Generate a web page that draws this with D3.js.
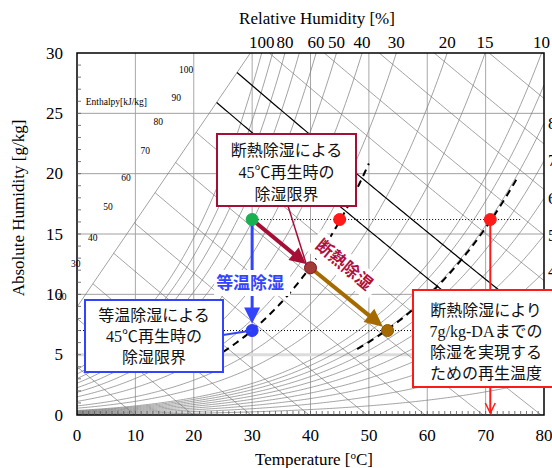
<!DOCTYPE html>
<html>
<head>
<meta charset="utf-8">
<script src="https://cdn.jsdelivr.net/npm/d3@7/dist/d3.min.js"></script>
<style>
  body { margin: 0; background: #fff; }
  text { font-family: "Liberation Serif", "Noto Sans CJK JP", serif; }
  .jp { font-family: "Liberation Serif", "Noto Sans CJK JP", sans-serif; }
</style>
</head>
<body>
<div id="chart"></div>
<script>
// --- data ---
const tempTicks = [0, 10, 20, 30, 40, 50, 60, 70, 80];
const humTicks = [0, 5, 10, 15, 20, 25, 30];
const rhLevels = [1, 2, 3, 4, 5, 6, 7, 8, 9, 10, 15, 20, 30, 40, 50, 60, 70, 80, 90, 100];
const rhTopLabels = [100, 80, 60, 50, 40, 30, 20, 15, 10];
const rhRightLabels = [8, 7, 6, 5, 4];
const enthalpyLevels = [10, 20, 30, 40, 50, 60, 70, 80, 90, 100, 110, 120, 130, 140, 150, 160];
const enthalpyBold = [90, 100];
// enthalpy label: [h, T, w]
const enthalpyLabels = [
  [100, 18.7, 28.6], [90, 17.0, 26.3], [80, 13.9, 24.3], [70, 11.7, 21.9],
  [60, 8.4, 19.6], [50, 5.3, 17.2], [40, 2.7, 14.7], [30, -0.2, 12.5], [20, -2.6, 9.8]
];
// guide line where the enthalpy lines start [T, w]
const guideLine = [[0, 8.95], [29.7, 30]];
// state points [T, w]
const pStart = [30, 16.2];
const pIso = [30, 7.0];
const pMid = [40, 12.2];
const pAdi = [53.2, 7.0];
const pReg45 = [45, 16.2];
const pReg71 = [70.8, 16.2];
// dashed RH curves through the points: [rh, Tfrom, Tto]
const dashedCurves = [[26.6, 25, 50], [7.9, 48, 75.5]];

// --- set-up ---
const width = 552, height = 468;
const margin = { top: 53, right: 8, bottom: 53, left: 77 };
const x = d3.scaleLinear().domain([0, 80]).range([margin.left, width - margin.right]);
const y = d3.scaleLinear().domain([0, 30]).range([height - margin.bottom, margin.top]);

const svg = d3.select("#chart").append("svg")
  .attr("width", width).attr("height", height);

svg.append("defs").append("clipPath").attr("id", "plot")
  .append("rect")
  .attr("x", x(0)).attr("y", y(30))
  .attr("width", x(80) - x(0)).attr("height", y(0) - y(30));

// psychrometrics
function psat(t) {
  const T = t + 273.15;
  return Math.exp(-5800.2206 / T + 1.3914993 - 0.048640239 * T + 4.1764768e-5 * T * T
    - 1.4452093e-8 * T * T * T + 6.5459673 * Math.log(T)) / 1000;
}
function wFromRh(t, rh) {
  const pv = rh / 100 * psat(t);
  return 622 * pv / (101.325 - pv);
}
function wFromH(t, h) { return 1000 * (h - 1.006 * t) / (2501 + 1.86 * t); }
function guideW(t) {
  const [a, b] = guideLine;
  return a[1] + (t - a[0]) * (b[1] - a[1]) / (b[0] - a[0]);
}
function solve(f, lo, hi) {
  for (let i = 0; i < 60; i++) {
    const m = (lo + hi) / 2;
    if (f(lo) * f(m) <= 0) hi = m; else lo = m;
  }
  return (lo + hi) / 2;
}

const line = d3.line().x(d => x(d[0])).y(d => y(d[1]));
const tSteps = d3.range(0, 80.001, 0.25);

const g = svg.append("g").attr("clip-path", "url(#plot)");

// grid
g.selectAll(".vgrid").data(tempTicks.slice(1, -1)).enter().append("line")
  .attr("x1", d => x(d)).attr("x2", d => x(d))
  .attr("y1", y(0)).attr("y2", y(30))
  .attr("stroke", "#a8a8a8").attr("stroke-width", 1);
g.selectAll(".hgrid").data(humTicks.slice(1, -1)).enter().append("line")
  .attr("x1", x(0)).attr("x2", x(80))
  .attr("y1", d => y(d)).attr("y2", d => y(d))
  .attr("stroke", d => d === 5 ? "#dcdcdc" : "#a0a0a0")
  .attr("stroke-width", d => d === 5 ? 3 : 1);

// RH curves
g.selectAll(".rh").data(rhLevels).enter().append("path")
  .attr("d", rh => line(tSteps.map(t => [t, Math.min(wFromRh(t, rh), 40)])))
  .attr("fill", "none").attr("stroke", "#7a7a7a").attr("stroke-width", 0.7);

// guide line
g.append("path").attr("d", line(guideLine))
  .attr("fill", "none").attr("stroke", "#7a7a7a").attr("stroke-width", 0.7);

// enthalpy lines
function hSegment(h) {
  let t0 = 0;
  if (wFromH(0, h) > guideW(0)) t0 = solve(t => wFromH(t, h) - guideW(t), 0, 80);
  if (wFromH(t0, h) > 30) t0 = solve(t => wFromH(t, h) - 30, 0, 80);
  const t1 = Math.min(80, h / 1.006);
  return d3.range(t0, t1, 0.5).concat([t1]).map(t => [t, wFromH(t, h)]);
}
g.selectAll(".h").data(enthalpyLevels).enter().append("path")
  .attr("d", h => line(hSegment(h)))
  .attr("fill", "none")
  .attr("stroke", h => enthalpyBold.includes(h) ? "#000" : "#7a7a7a")
  .attr("stroke-width", h => enthalpyBold.includes(h) ? 1.2 : 0.7);

// dashed RH curves
g.selectAll(".dash").data(dashedCurves).enter().append("path")
  .attr("d", d => line(d3.range(d[1], d[2], 0.25).concat([d[2]]).map(t => [t, wFromRh(t, d[0])])))
  .attr("fill", "none").attr("stroke", "#000").attr("stroke-width", 2)
  .attr("stroke-dasharray", "7,5");

// dotted horizontal lines
g.append("line").attr("x1", x(0)).attr("x2", x(64)).attr("y1", y(pIso[1])).attr("y2", y(pIso[1]))
  .attr("stroke", "#000").attr("stroke-width", 1).attr("stroke-dasharray", "1,2");
g.append("line").attr("x1", x(pStart[0])).attr("x2", x(76)).attr("y1", y(pStart[1])).attr("y2", y(pStart[1]))
  .attr("stroke", "#000").attr("stroke-width", 1).attr("stroke-dasharray", "1,2");

// enthalpy labels
svg.append("text").attr("x", x(1.5)).attr("y", y(25.9)).attr("font-size", 9.5)
  .attr("dominant-baseline", "central").text("Enthalpy[kJ/kg]");
svg.selectAll(".hl").data(enthalpyLabels).enter().append("text")
  .attr("x", d => x(d[1])).attr("y", d => y(d[2]))
  .attr("text-anchor", "middle").attr("dominant-baseline", "central")
  .attr("font-size", 9.5).text(d => d[0]);

// axes frame and ticks
const frame = svg.append("g");
frame.append("rect").attr("x", x(0)).attr("y", y(30))
  .attr("width", x(80) - x(0)).attr("height", y(0) - y(30))
  .attr("fill", "none").attr("stroke", "#000").attr("stroke-width", 1.5);
frame.selectAll(".mt").data(d3.range(1, 30)).enter().append("line")
  .attr("x1", x(0)).attr("x2", x(0) + 4).attr("y1", d => y(d)).attr("y2", d => y(d))
  .attr("stroke", "#555").attr("stroke-width", 0.8);
frame.selectAll(".mb").data(d3.range(1, 80)).enter().append("line")
  .attr("x1", d => x(d)).attr("x2", d => x(d)).attr("y1", y(0)).attr("y2", y(0) - 4)
  .attr("stroke", "#555").attr("stroke-width", 0.8);

svg.selectAll(".xt").data(tempTicks).enter().append("text")
  .attr("x", d => x(d)).attr("y", y(0) + 26)
  .attr("text-anchor", "middle").attr("font-size", 17).text(d => d);
svg.selectAll(".yt").data(humTicks).enter().append("text")
  .attr("x", x(0) - 14).attr("y", d => y(d)).attr("dominant-baseline", "central")
  .attr("text-anchor", "end").attr("font-size", 17).text(d => d);
svg.selectAll(".rt").data(rhTopLabels).enter().append("text")
  .attr("x", rh => x(solve(t => wFromRh(t, rh) - 30, 0, 100)))
  .attr("y", y(30) - 5)
  .attr("text-anchor", "middle").attr("font-size", 17).text(d => d);
// right edge RH labels (cut by the window edge)
svg.selectAll(".rr").data(rhRightLabels).enter().append("text")
  .attr("x", x(80) + 4).attr("y", rh => y(wFromRh(80, rh)))
  .attr("dominant-baseline", "central").attr("font-size", 17).text(d => d);

svg.append("text").attr("x", 317).attr("y", 24).attr("text-anchor", "middle")
  .attr("font-size", 17).text("Relative Humidity [%]");
const tt = svg.append("text").attr("x", 314).attr("y", 465).attr("text-anchor", "middle")
  .attr("font-size", 17);
tt.append("tspan").text("Temperature [");
tt.append("tspan").attr("font-size", 11).attr("dy", -6).text("o");
tt.append("tspan").attr("dy", 6).text("C]");
svg.append("text").attr("transform", "translate(24,208) rotate(-90)")
  .attr("text-anchor", "middle").attr("font-size", 17).text("Absolute Humidity [g/kg]");

// --- annotations ---
const ann = svg.append("g");
function arrowHead(sel, from, to, len, half, color) {
  const dx = to[0] - from[0], dy = to[1] - from[1], L = Math.hypot(dx, dy);
  const ux = dx / L, uy = dy / L;
  const bx = to[0] - ux * len, by = to[1] - uy * len;
  sel.append("path")
    .attr("d", `M${to[0]},${to[1]}L${bx - uy * half},${by + ux * half}L${bx + uy * half},${by - ux * half}Z`)
    .attr("fill", color);
}
function arrow(p, q, color, w, len, half, gap) {
  const a = [x(p[0]), y(p[1])], b = [x(q[0]), y(q[1])];
  const L = Math.hypot(b[0] - a[0], b[1] - a[1]);
  const tip = [b[0] - (b[0] - a[0]) / L * gap, b[1] - (b[1] - a[1]) / L * gap];
  const base = [tip[0] - (b[0] - a[0]) / L * (len - 2), tip[1] - (b[1] - a[1]) / L * (len - 2)];
  ann.append("line").attr("x1", a[0]).attr("y1", a[1]).attr("x2", base[0]).attr("y2", base[1])
    .attr("stroke", color).attr("stroke-width", w);
  arrowHead(ann, a, tip, len, half, color);
}

// red vertical line with open arrow
ann.append("line").attr("x1", x(pReg71[0])).attr("x2", x(pReg71[0]))
  .attr("y1", y(pReg71[1])).attr("y2", y(0) - 2)
  .attr("stroke", "#ff1a1a").attr("stroke-width", 2);
ann.append("path")
  .attr("d", `M${x(pReg71[0]) - 5},${y(0) - 12}L${x(pReg71[0])},${y(0) - 2}L${x(pReg71[0]) + 5},${y(0) - 12}`)
  .attr("fill", "none").attr("stroke", "#ff1a1a").attr("stroke-width", 1.5);

// isothermal arrow
arrow(pStart, pIso, "#3344ff", 3, 16, 8, 7);
// adiabatic arrows
arrow(pStart, pMid, "#a50f35", 4, 16, 8, 6);
arrow(pMid, pAdi, "#a66b00", 4, 18, 8.5, 6);

// label 等温除湿
ann.append("rect").attr("x", x(pIso[0]) - 38).attr("y", 270).attr("width", 76).attr("height", 26)
  .attr("fill", "#fff");
ann.append("text").attr("class", "jp").attr("x", x(pIso[0]) - 2).attr("y", 283)
  .attr("text-anchor", "middle").attr("dominant-baseline", "central")
  .attr("font-size", 17).attr("font-weight", "bold").attr("fill", "#3344ff").text("等温除湿");

// label 断熱除湿 (rotated)
const rl = ann.append("g").attr("transform", "translate(344,265) rotate(40)");
rl.append("rect").attr("x", -40).attr("y", -13).attr("width", 80).attr("height", 26).attr("fill", "#fff");
rl.append("text").attr("class", "jp").attr("text-anchor", "middle").attr("dominant-baseline", "central")
  .attr("font-size", 17).attr("font-weight", "bold").attr("fill", "#b0103c").text("断熱除湿");

// points
const pts = [
  [pReg45, "#ff1a1a", "#ff1a1a"], [pReg71, "#ff1a1a", "#ff1a1a"],
  [pStart, "#19b050", "#19b050"], [pIso, "#2a3cf5", "#2a3cf5"],
  [pMid, "#a33a3a", "#8a1020"], [pAdi, "#a66b00", "#8a5800"]
];
ann.selectAll(".pt").data(pts).enter().append("circle")
  .attr("cx", d => x(d[0][0])).attr("cy", d => y(d[0][1])).attr("r", 6)
  .attr("fill", d => d[1]).attr("stroke", d => d[2]).attr("stroke-width", 1);

// callout boxes
function callout(x0, y0, x1, y1, color, lines, cx, cy0, dy) {
  ann.append("rect").attr("x", x0).attr("y", y0).attr("width", x1 - x0).attr("height", y1 - y0)
    .attr("fill", "#fff").attr("stroke", color).attr("stroke-width", 2);
  lines.forEach((s, i) => {
    ann.append("text").attr("class", "jp").attr("x", cx).attr("y", cy0 + i * dy)
      .attr("text-anchor", "middle").attr("dominant-baseline", "central")
      .attr("font-size", 16).attr("fill", "#111").text(s);
  });
}
// maroon callout
ann.append("line").attr("x1", 288).attr("y1", 206).attr("x2", x(pMid[0]) - 4).attr("y2", y(pMid[1]) - 3)
  .attr("stroke", "#a50f35").attr("stroke-width", 1.5);
callout(217, 134, 356, 206, "#a50f35", ["断熱除湿による", "45℃再生時の", "除湿限界"], 286.5, 150, 22);
// blue callout
ann.append("line").attr("x1", 223).attr("y1", 335).attr("x2", x(pIso[0])).attr("y2", y(pIso[1]))
  .attr("stroke", "#3344ff").attr("stroke-width", 2);
callout(85, 300, 223, 372, "#3344ff", ["等温除湿による", "45℃再生時の", "除湿限界"], 154, 315, 21);
// red callout
callout(413, 290, 562, 387, "#ff1a1a", ["断熱除湿により", "7g/kg-DAまでの", "除湿を実現する", "ための再生温度"], 486, 310, 21);
</script>
</body>
</html>
